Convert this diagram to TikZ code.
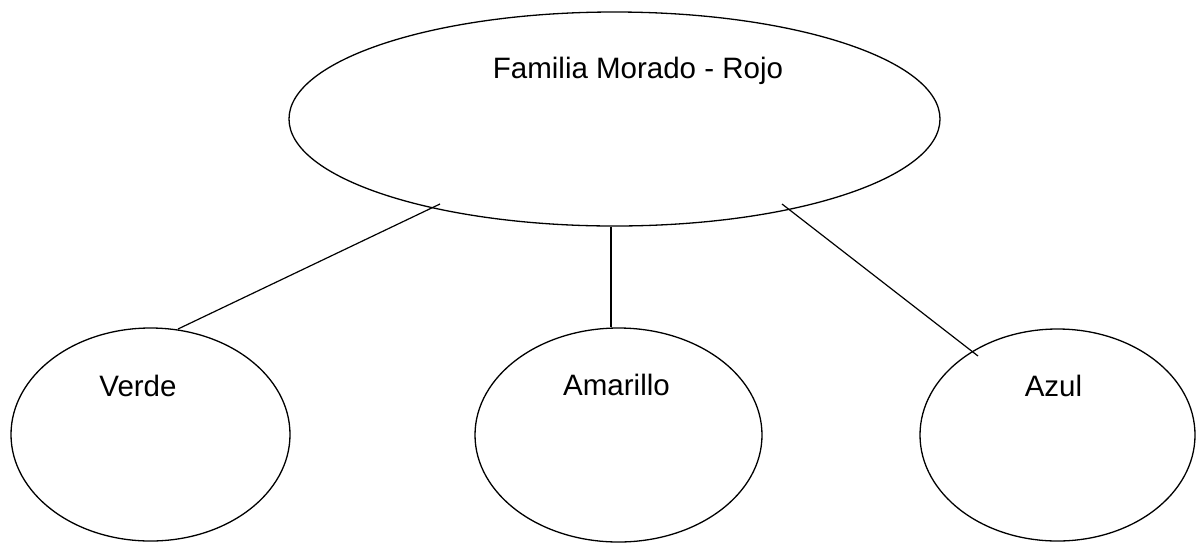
\documentclass[tikz,border=0pt]{standalone}
\usepackage{fontspec}
\setmainfont{Liberation Sans}
\usetikzlibrary{shapes.geometric}
\begin{document}
\begin{tikzpicture}[x=1pt,y=-1pt,
  oval/.style={draw=black,line width=1.3pt,ellipse,inner sep=0pt,fill=white},
  caption/.style={anchor=base,inner sep=0pt,font=\fontsize{29.5}{35}\selectfont},
  link/.style={draw=black,line width=1.2pt}]
  \useasboundingbox[fill=white] (0,0) rectangle (1196,542);

  % ellipses
  \node[oval,minimum width=651pt,minimum height=214pt] (top) at (614.5,119) {};
  \node[oval,minimum width=279pt,minimum height=213pt] (verde) at (150.5,434.5) {};
  \node[oval,minimum width=287pt,minimum height=214pt] (amarillo) at (618.5,435) {};
  \node[oval,minimum width=275pt,minimum height=212pt] (azul) at (1057.5,435) {};

  % labels
  \node[caption] (tTop) at (638,78.5) {Familia Morado - Rojo};
  \node[caption] (tVerde) at (138,396) {Verde};
  \node[caption] (tAmarillo) at (616.5,395.5) {Amarillo};
  \node[caption] (tAzul) at (1053.5,396) {Azul};

  % connectors
  \draw[link] ([shift={(-174.5,85)}]top.center) -- ([shift={(27.5,-105.5)}]verde.center);
  \draw[link] (top.south -| 611,0) -- (amarillo.north -| 611,0);
  \draw[link] ([shift={(167.5,85)}]top.center) -- ([shift={(-79.5,-79)}]azul.center);
\end{tikzpicture}
\end{document}
